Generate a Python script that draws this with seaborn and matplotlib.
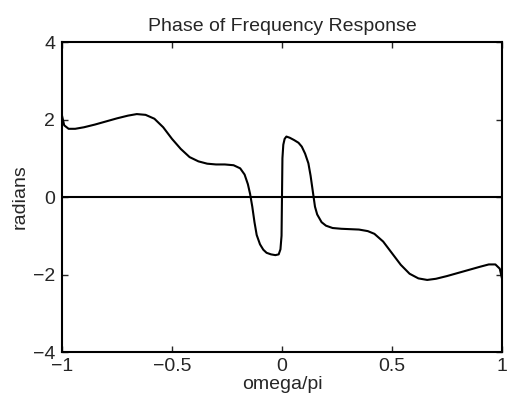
import numpy as np
import pandas as pd
import matplotlib
matplotlib.use("Agg")
import matplotlib.pyplot as plt
import seaborn as sns

# phase curve (omega/pi, radians)
omega = [-1.00, -0.99, -0.97, -0.94, -0.90, -0.85, -0.80, -0.75, -0.70, -0.66,
         -0.62, -0.58, -0.54, -0.50, -0.46, -0.42, -0.38, -0.34, -0.30, -0.26,
         -0.22, -0.19, -0.17, -0.155, -0.145, -0.135, -0.125, -0.115, -0.10, -0.085,
         -0.07, -0.05, -0.03, -0.015, -0.007, -0.002,
         0.002, 0.006, 0.012, 0.02, 0.035, 0.055, 0.075, 0.09, 0.105, 0.12,
         0.13, 0.14, 0.15, 0.16, 0.18, 0.20, 0.23, 0.27, 0.31, 0.35,
         0.39, 0.42, 0.46, 0.50, 0.54, 0.58, 0.62, 0.66, 0.70, 0.75,
         0.80, 0.85, 0.90, 0.94, 0.97, 0.99, 1.00]
phase = [2.10, 1.85, 1.76, 1.76, 1.80, 1.87, 1.95, 2.03, 2.10, 2.14,
         2.12, 2.02, 1.80, 1.50, 1.24, 1.03, 0.92, 0.86, 0.84, 0.84,
         0.82, 0.74, 0.58, 0.33, 0.08, -0.25, -0.65, -0.98, -1.22, -1.36,
         -1.44, -1.48, -1.50, -1.48, -1.35, -1.00,
         1.00, 1.35, 1.50, 1.56, 1.53, 1.47, 1.40, 1.30, 1.12, 0.87,
         0.55, 0.15, -0.25, -0.45, -0.65, -0.74, -0.80, -0.82, -0.83, -0.84,
         -0.88, -0.95, -1.15, -1.45, -1.75, -1.98, -2.10, -2.14, -2.11, -2.04,
         -1.96, -1.88, -1.80, -1.74, -1.74, -1.85, -2.10]

x_ticks = [-1, -0.5, 0, 0.5, 1]
x_tick_labels = ["\u22121", "\u22120.5", "0", "0.5", "1"]
y_ticks = [-4, -2, 0, 2, 4]
y_tick_labels = ["\u22124", "\u22122", "0", "2", "4"]

df = pd.DataFrame({"omega": omega, "phase": phase})

sns.set_style("ticks")
plt.rcParams["font.family"] = ["Liberation Sans", "DejaVu Sans"]

fig = plt.figure(figsize=(5.09, 4.07), dpi=100)
ax = fig.add_axes([0.1218, 0.1351, 0.8644, 0.7617])

sns.lineplot(data=df, x="omega", y="phase", sort=False, estimator=None,
             color="black", linewidth=1.5, ax=ax)
ax.axhline(0, color="black", linewidth=1.5)

ax.set_xlim(-1, 1)
ax.set_ylim(-4, 4)
ax.set_xticks(x_ticks)
ax.set_xticklabels(x_tick_labels)
ax.set_yticks(y_ticks)
ax.set_yticklabels(y_tick_labels)
ax.tick_params(direction="in", top=True, right=True, length=4, width=1,
               labelsize=14)
ax.tick_params(axis="x", pad=4)
ax.tick_params(axis="y", pad=5)
for s in ax.spines.values():
    s.set_linewidth(1.5)
    s.set_color("black")

ax.set_title("Phase of Frequency Response", fontsize=14, pad=8)
ax.set_xlabel("omega/pi", fontsize=14, labelpad=1)
ax.set_ylabel("radians", fontsize=14, labelpad=3)

fig.savefig("out.png", dpi=100)
